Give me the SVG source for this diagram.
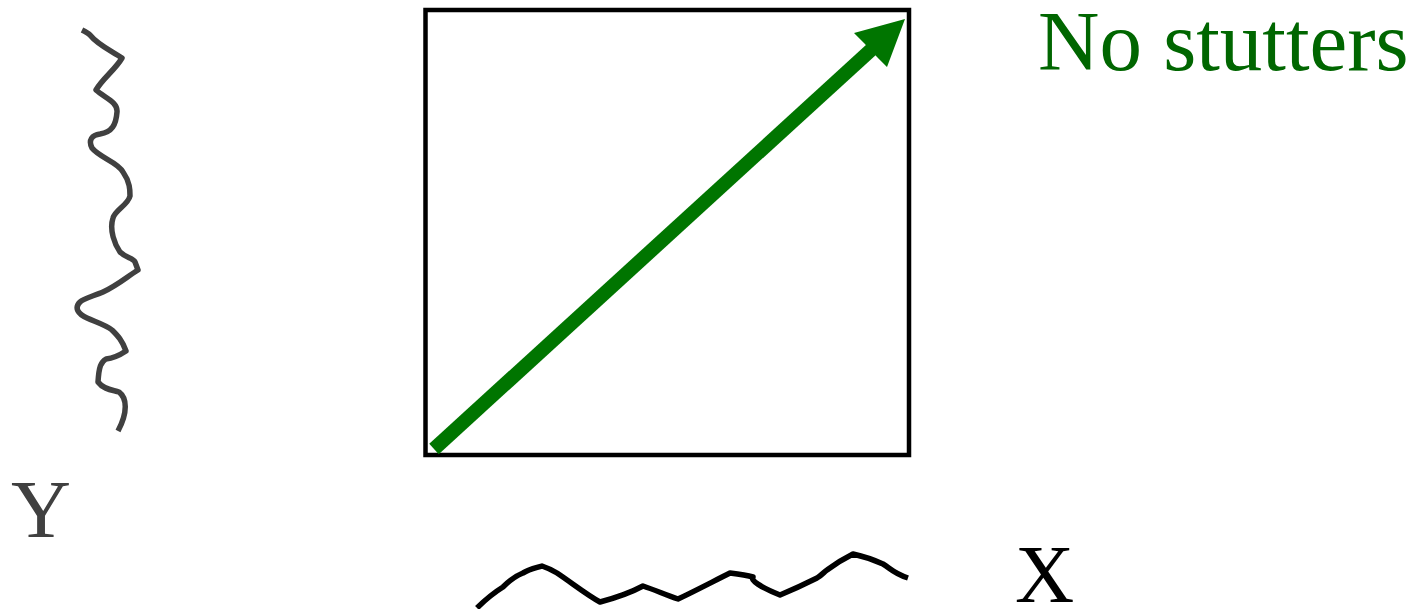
<svg xmlns="http://www.w3.org/2000/svg" width="1416" height="609" viewBox="0 0 1416 609">
<style>
.wave{fill:none;stroke-width:5.5;stroke-linecap:butt;stroke-linejoin:round}
.lbl{font-family:"Liberation Serif","Times New Roman",serif}
</style>
<rect width="1416" height="609" fill="#fff"/>
<g id="box"><rect x="425.5" y="10" width="483.5" height="445" fill="none" stroke="#000" stroke-width="4.5"/></g>
<g id="connectors">
<line x1="434" y1="449" x2="872" y2="49" stroke="#007500" stroke-width="14"/>
<polygon points="905,19 854,33 864,43 877,57 887,67" fill="#007500"/>
</g>
<g id="y-wave"><path class="wave" stroke="#404040" d="M82,30 C86,32 88,33 90,35 C98,45 110,50 122,58 C115,70 103,78 96,90 C105,98 118,102 117,112 C116,125 112,132 100,134 C92,135 88,140 92,148 C100,158 118,162 123,172 C130,182 130,190 130,196 C128,205 115,210 113,218 C109,230 115,245 120,252 C126,258 133,258 135,262 L138,270 C128,276 118,285 103,292 C94,296 84,298 80,302 C74,308 78,314 87,318 C96,322 106,325 112,330 C118,336 122,340 126,351 C120,355 115,358 106,359 C101,362 99,366 98,382 C104,390 113,390 119,392 C127,398 128,412 118,431"/></g>
<g id="x-wave"><path class="wave" stroke="#000" d="M477,608 C485,600 495,592 503,587 C510,580 518,575 523,573 C530,569 536,568 542,566 C548,568 552,570 557,573 C572,583 587,595 600,602 C615,598 630,593 643,586 C655,590 666,595 678,599 C695,591 712,582 730,573 C738,574 746,575 753,577 C750,580 760,587 780,595 C792,590 805,584 817,578 C822,575 824,572 827,570 C835,564 845,558 853,554 C862,556 872,559 883,564 C890,568 893,573 908,578"/></g>
<g id="label-title"><text class="lbl" x="1038" y="70" font-size="85" fill="#006600">No stutters</text></g>
<g id="label-y"><text class="lbl" x="11" y="537" font-size="83" fill="#404040">Y</text></g>
<g id="label-x"><text class="lbl" x="1015" y="602" font-size="82" fill="#000">X</text></g>
</svg>
